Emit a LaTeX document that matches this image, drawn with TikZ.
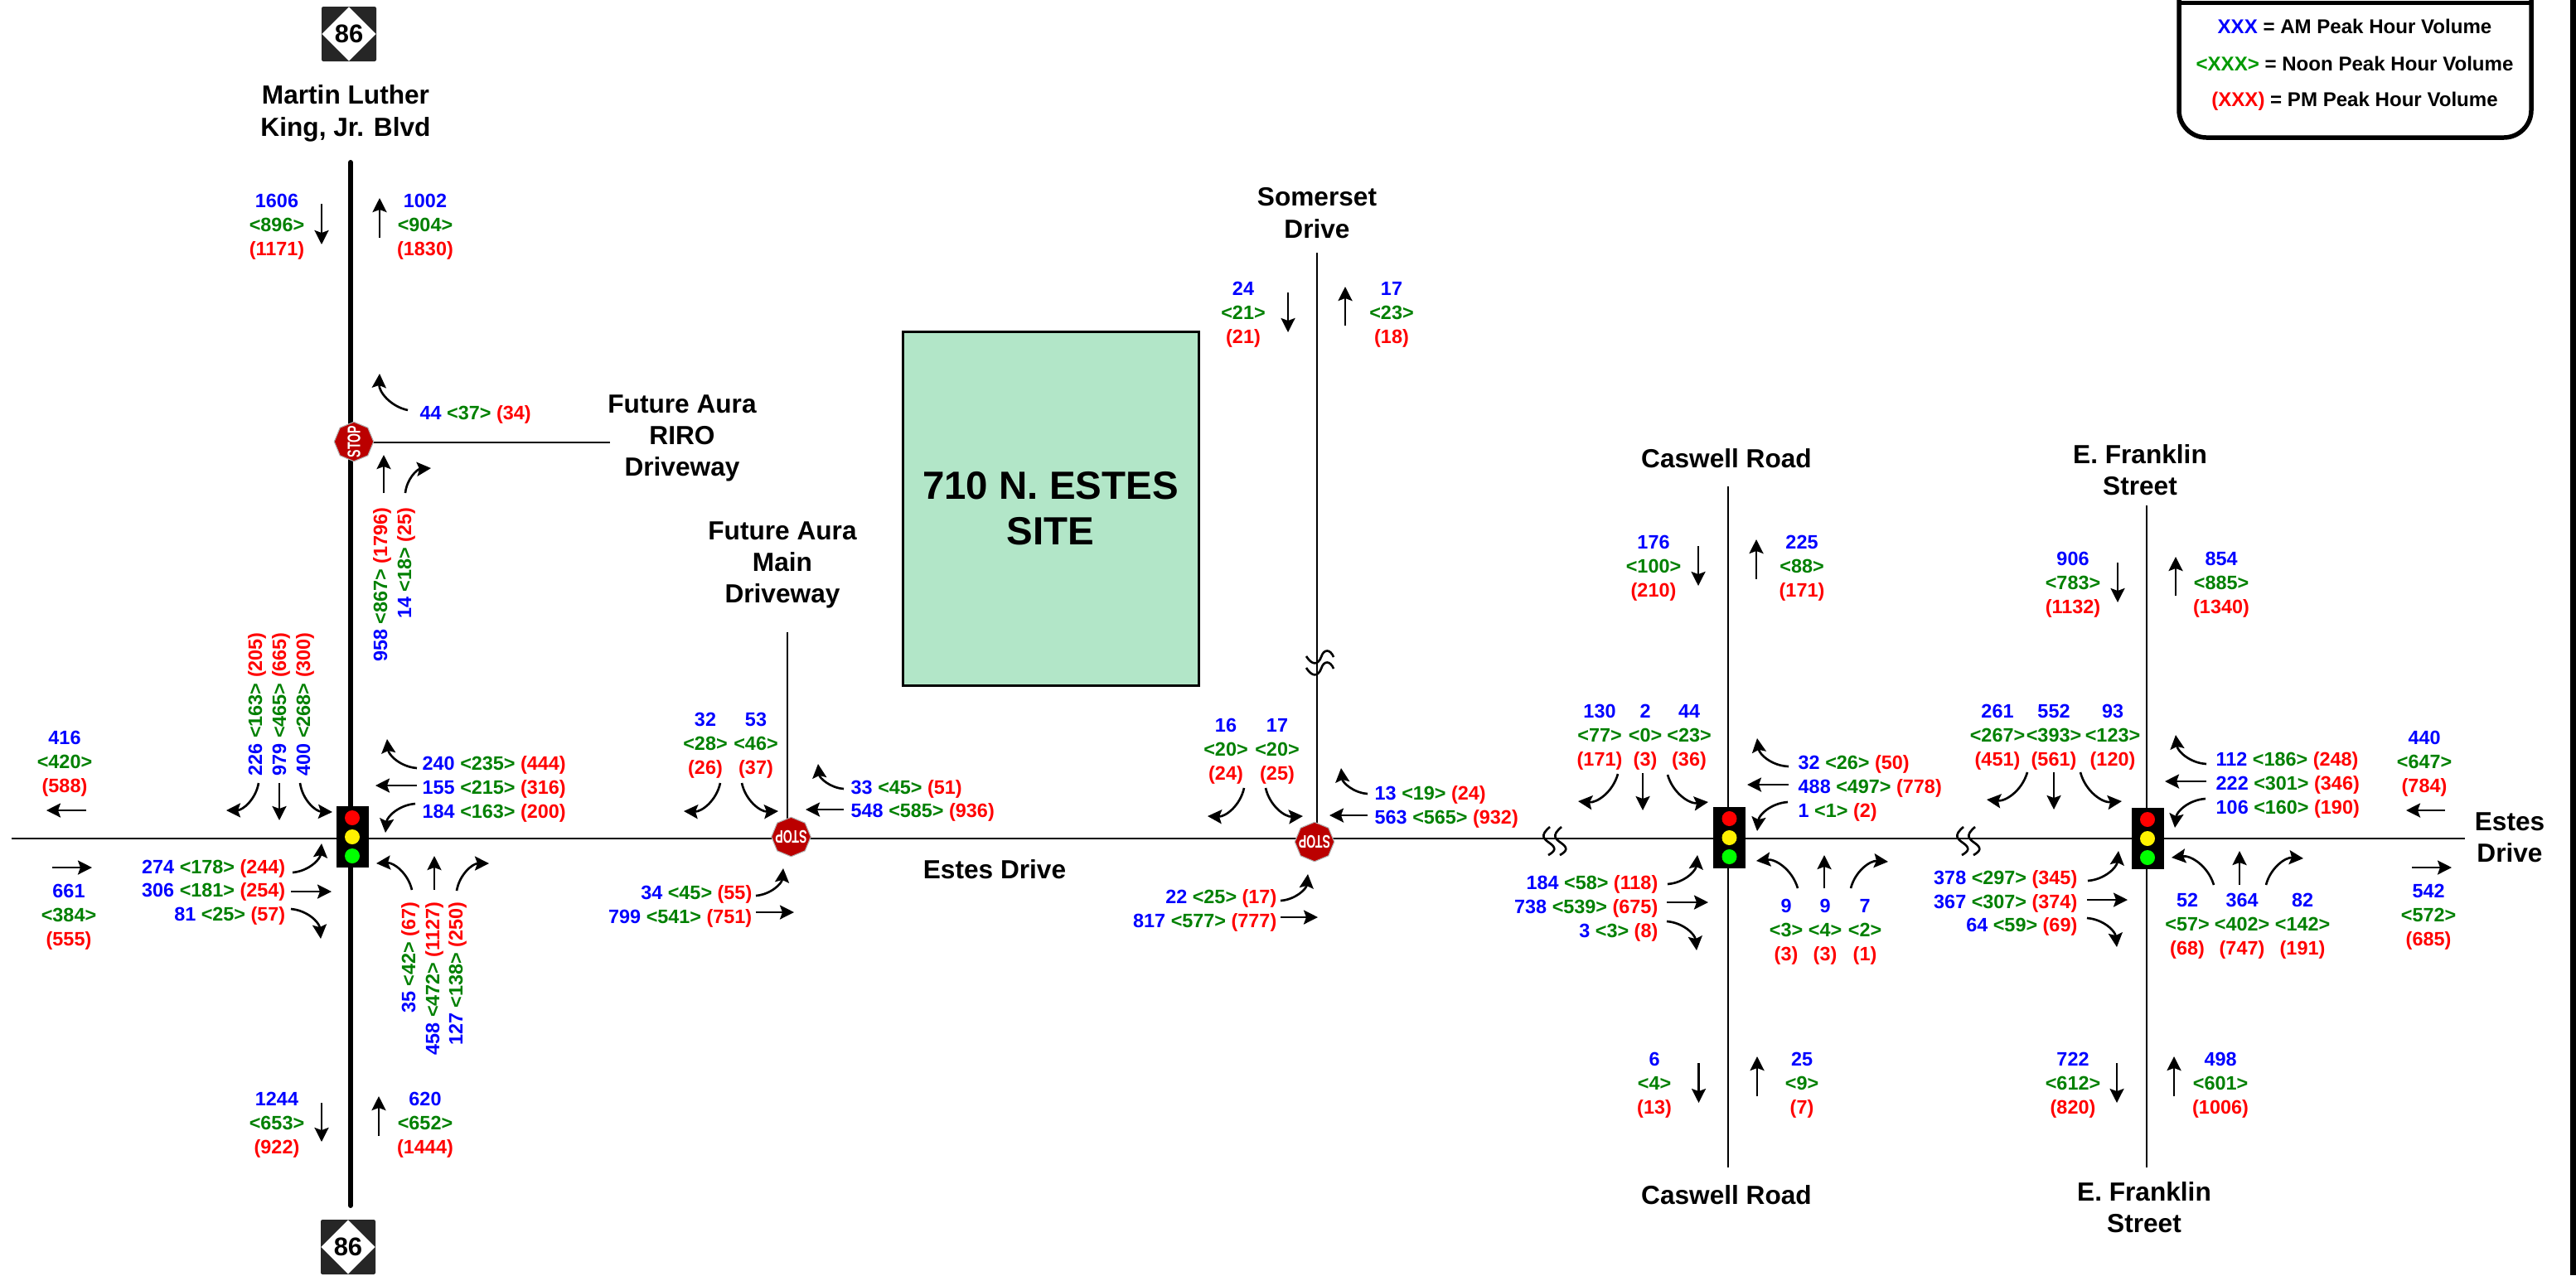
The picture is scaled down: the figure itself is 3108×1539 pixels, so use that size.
\documentclass[tikz,border=0pt]{standalone}
\usepackage{fontspec}
\setmainfont{Liberation Sans}
\usetikzlibrary{arrows.meta,shapes.geometric}
\definecolor{amblue}{HTML}{0000FF}
\definecolor{noongreen}{HTML}{008000}
\definecolor{keygreen}{HTML}{009900}
\definecolor{pmred}{HTML}{FF0000}
\definecolor{stopred}{HTML}{BB0000}
\definecolor{sitegreen}{HTML}{B2E6C8}
\definecolor{shielddark}{HTML}{262626}
\newcommand{\volrow}[3]{\textcolor{amblue}{#1} \textcolor{noongreen}{<#2>} \textcolor{pmred}{(#3)}}
\newcommand{\volstack}[3]{\textcolor{amblue}{#1}\\\textcolor{noongreen}{<#2>}\\\textcolor{pmred}{(#3)}}
\newcommand{\stoptext}{\smash{\makebox[0pt]{\raisebox{-.5\height}{\scalebox{.65}[1]{STOP}}}}}
\tikzset{
  volbase/.style={font=\fontsize{6.66}{8.25}\selectfont\bfseries,inner sep=0pt,align=center},
  vol/.style={volbase,yshift=-0.2mm},
  volup/.style={volbase,rotate=90},
  rdname/.style={font=\fontsize{9}{10.9}\selectfont\bfseries,inner sep=0pt,align=center},
  keyrow/.style={font=\fontsize{6.85}{8.25}\selectfont\bfseries,inner sep=0pt},
  mainrd/.style={line width=1.7pt,line cap=round},
  minorrd/.style={line width=0.75pt},
  mv/.style={-{Stealth[length=1.7mm,width=1.7mm,inset=0.3mm]},line width=0.75pt},
  turnl/.style={bend right=40},
  turnr/.style={bend left=40},
  sigbox/.style={fill=black,minimum width=0.39cm,minimum height=0.745cm,inner sep=0pt},
  lamp/.style={circle,minimum size=0.18cm,inner sep=0pt},
  stopsign/.style={regular polygon,regular polygon sides=8,shape border rotate=22.5,fill=stopred,draw=gray!60,line width=0.3pt,minimum size=0.475cm,inner sep=0pt,text=white,font=\fontsize{6.2}{7}\selectfont\bfseries},
  shieldbox/.style={fill=shielddark,rounded corners=0.6pt,minimum size=0.66cm,inner sep=0pt},
  shielddia/.style={diamond,fill=white,minimum width=0.66cm,minimum height=0.66cm,inner sep=0pt,font=\fontsize{8.8}{10}\selectfont\bfseries},
  brkv/.pic={\draw[minorrd] (-13,-8) .. controls (-6,3) and (1,3) .. (5,-7) .. controls (8,-17) and (16,-17) .. (20,-7);},
  brkh/.pic={\draw[minorrd] (2,-14) .. controls (-10,-4) and (-6,0) .. (1,5) .. controls (10,11) and (9,15) .. (0,20);}
}
\begin{document}
\begin{tikzpicture}[x=0.1mm,y=-0.1mm]
\useasboundingbox (0,0) rectangle (3108,1539);
\fill (3101,0) rectangle (3108,1539);
% roads
\draw[minorrd] (14,1012) -- (2974,1012);
\draw[mainrd] (423,196) -- (423,1455);
\draw[minorrd] (427,534) -- (736,534);
\draw[minorrd] (950,763) -- (950,1000);
\draw[minorrd] (1589,305) -- (1589,1000);
\draw[minorrd] (2085,587) -- (2085,1409);
\draw[minorrd] (2590,610) -- (2590,1409);
\foreach \dy in {0,14} \pic at (1589,{800+\dy}) {brkv};
\foreach \bx in {1868,1882,2367,2381} \pic at (\bx,1012) {brkh};
% site
\node[draw=black,line width=0.85pt,fill=sitegreen,minimum width=3.57cm,minimum height=4.27cm,inner sep=0pt,align=center,font=\fontsize{13.5}{15.6}\selectfont\bfseries] (site) at (1267.5,613.5) {710 N. ESTES\\SITE};
% shields
\node[shieldbox] (shieldN) at (421,41) {};
\node[shielddia] (diaN) at (shieldN) {86};
\node[shieldbox] (shieldS) at (420,1505) {};
\node[shielddia] (diaS) at (shieldS) {86};
% road names
\node[rdname] (mlkname) at (417,137) {Martin Luther\\King, Jr. Blvd};
\node[rdname] (rironame) at (823,529) {Future Aura\\RIRO\\Driveway};
\node[rdname] (mainname) at (944,682) {Future Aura\\Main\\Driveway};
\node[rdname] (somname) at (1589,257) {Somerset\\Drive};
\node[rdname] (estesname) at (1200,1049) {Estes Drive};
\node[rdname] (casNname) at (2083,553) {Caswell Road};
\node[rdname] (casSname) at (2083,1442) {Caswell Road};
\node[rdname] (frNname) at (2582,567) {E. Franklin\\Street};
\node[rdname] (frSname) at (2587,1457) {E. Franklin\\Street};
\node[rdname] (estesE) at (3028,1011) {Estes\\Drive};
% signals and stop signs
\foreach \sname/\sx/\sy in {sigmlk/425/1010,sigcas/2086.5/1011,sigfr/2591/1012}{
  \node[sigbox] (\sname) at (\sx,\sy) {};
  \node[lamp,fill=red] (\sname r) at (\sx,\sy-23) {};
  \node[lamp,fill=yellow] (\sname y) at (\sx,\sy) {};
  \node[lamp,fill=green] (\sname g) at (\sx,\sy+23) {};
}
\node[stopsign,rotate=90] (stopriro) at (427,533) {\stoptext};
\node[stopsign,rotate=180] (stopmain) at (954.5,1010) {\stoptext};
\node[stopsign,rotate=180] (stopsom) at (1586,1016) {\stoptext};
% key
\draw[line width=1.56pt,rounded corners=0.33cm] (2629,-10) -- (2629,166) -- (3054,166) -- (3054,-10);
\draw[line width=1.56pt] (2629,3.5) -- (3054,3.5);
\node[keyrow] (keyam) at (2841,32) {\textcolor{amblue}{XXX} = AM Peak Hour Volume};
\node[keyrow] (keynoon) at (2841,77) {\textcolor{keygreen}{<XXX>} = Noon Peak Hour Volume};
\node[keyrow] (keypm) at (2841,122) {\textcolor{pmred}{(XXX)} = PM Peak Hour Volume};
% Martin Luther King Jr Blvd, north end and RIRO
\node[vol] (mlkNs) at (334,272) {\volstack{1606}{896}{1171}};
\node[vol] (mlkNn) at (513,272) {\volstack{1002}{904}{1830}};
\draw[mv] (388,246) -- (388,295);
\draw[mv] (458,287) -- (458,239);
\node[vol,anchor=west] (riroW) at (506,498) {\volrow{44}{37}{34}};
\draw[mv] (492,495) to[turnr] (458,451);
\node[volup,anchor=east] (riroT) at (461,612) {\volrow{958}{867}{1796}};
\node[volup,anchor=east] (riroR) at (490,612) {\volrow{14}{18}{25}};
\draw[mv] (463,595) -- (463,549);
\draw[mv] (489,595) to[turnr] (520,565);
% Martin Luther King Jr Blvd at Estes
\node[volup,anchor=west] (mlkSBl) at (310,937) {\volrow{226}{163}{205}};
\node[volup,anchor=west] (mlkSBt) at (339,937) {\volrow{979}{465}{665}};
\node[volup,anchor=west] (mlkSBr) at (368,937) {\volrow{400}{268}{300}};
\draw[mv] (312,945) to[turnr] (273,978);
\draw[mv] (337,945) -- (337,990);
\draw[mv] (362,945) to[turnl] (401,980);
\node[vol,anchor=west] (mlkWBr) at (509,921) {\volrow{240}{235}{444}};
\node[vol,anchor=west] (mlkWBt) at (509,950) {\volrow{155}{215}{316}};
\node[vol,anchor=west] (mlkWBl) at (509,979) {\volrow{184}{163}{200}};
\draw[mv] (503,927) to[turnr] (467,892);
\draw[mv] (503,948) -- (453,948);
\draw[mv] (501,970) to[turnl] (465,1005);
\node[vol,anchor=east] (mlkEBl) at (345,1046) {\volrow{274}{178}{244}};
\node[vol,anchor=east] (mlkEBt) at (345,1074) {\volrow{306}{181}{254}};
\node[vol,anchor=east] (mlkEBr) at (345,1103) {\volrow{81}{25}{57}};
\draw[mv] (353,1053) to[turnl] (388,1018);
\draw[mv] (351,1076) -- (400,1076);
\draw[mv] (351,1097) to[turnr] (387,1133);
\node[volup,anchor=east] (mlkNBl) at (495,1088) {\volrow{35}{42}{67}};
\node[volup,anchor=east] (mlkNBt) at (524,1088) {\volrow{458}{472}{1127}};
\node[volup,anchor=east] (mlkNBr) at (552,1088) {\volrow{127}{138}{250}};
\draw[mv] (497,1074) to[turnl] (454,1042);
\draw[mv] (524,1074) -- (524,1033);
\draw[mv] (551,1075) to[turnr] (590,1042);
\node[vol] (estWout) at (78,920) {\volstack{416}{420}{588}};
\draw[mv] (104,978) -- (56,978);
\node[vol] (estWin) at (83,1105) {\volstack{661}{384}{555}};
\draw[mv] (63,1047) -- (111,1047);
\node[vol] (mlkSs) at (334,1356) {\volstack{1244}{653}{922}};
\node[vol] (mlkSn) at (513,1356) {\volstack{620}{652}{1444}};
\draw[mv] (388,1331) -- (388,1378);
\draw[mv] (457,1371) -- (457,1323);
% Future Aura main driveway
\node[vol] (mainSl) at (851,898) {\volstack{32}{28}{26}};
\node[vol] (mainSr) at (912,898) {\volstack{53}{46}{37}};
\draw[mv] (869,945) to[turnr] (825,979);
\draw[mv] (895,945) to[turnl] (939,979);
\node[vol,anchor=west] (mainWr) at (1026,950) {\volrow{33}{45}{51}};
\node[vol,anchor=west] (mainWt) at (1026,978) {\volrow{548}{585}{936}};
\draw[mv] (1018,952) to[turnr] (987,922);
\draw[mv] (1018,977) -- (972,977);
\node[vol,anchor=east] (mainEl) at (908,1077) {\volrow{34}{45}{55}};
\node[vol,anchor=east] (mainEt) at (908,1106) {\volrow{799}{541}{751}};
\draw[mv] (912,1081) to[turnl] (945,1048);
\draw[mv] (912,1101) -- (958,1101);
% Somerset Drive
\node[vol] (somNs) at (1500,378) {\volstack{24}{21}{21}};
\node[vol] (somNn) at (1679,378) {\volstack{17}{23}{18}};
\draw[mv] (1554,353) -- (1554,401);
\draw[mv] (1623,393) -- (1623,346);
\node[vol] (somSl) at (1479,905) {\volstack{16}{20}{24}};
\node[vol] (somSr) at (1541,905) {\volstack{17}{20}{25}};
\draw[mv] (1501,951) to[turnr] (1457,985);
\draw[mv] (1527,951) to[turnl] (1572,985);
\node[vol,anchor=west] (somWr) at (1658,957) {\volrow{13}{19}{24}};
\node[vol,anchor=west] (somWt) at (1658,986) {\volrow{563}{565}{932}};
\draw[mv] (1650,958) to[turnr] (1618,927);
\draw[mv] (1650,984) -- (1604,984);
\node[vol,anchor=east] (somEl) at (1541,1082) {\volrow{22}{25}{17}};
\node[vol,anchor=east] (somEt) at (1541,1111) {\volrow{817}{577}{777}};
\draw[mv] (1545,1087) to[turnl] (1578,1055);
\draw[mv] (1545,1107) -- (1590,1107);
% Caswell Road
\node[vol] (casNs) at (1995,684) {\volstack{176}{100}{210}};
\node[vol] (casNn) at (2174,684) {\volstack{225}{88}{171}};
\draw[mv] (2049,659) -- (2049,707);
\draw[mv] (2119,699) -- (2119,651);
\node[vol] (casSBl) at (1930,888) {\volstack{130}{77}{171}};
\node[vol] (casSBt) at (1985,888) {\volstack{2}{0}{3}};
\node[vol] (casSBr) at (2038,888) {\volstack{44}{23}{36}};
\draw[mv] (1952,934) to[turnr] (1904,967);
\draw[mv] (1982,933) -- (1982,978);
\draw[mv] (2012,935) to[turnl] (2061,968);
\node[vol,anchor=west] (casWBr) at (2169,920) {\volrow{32}{26}{50}};
\node[vol,anchor=west] (casWBt) at (2169,949) {\volrow{488}{497}{778}};
\node[vol,anchor=west] (casWBl) at (2169,978) {\volrow{1}{1}{2}};
\draw[mv] (2158,925) to[turnr] (2120,891);
\draw[mv] (2158,947) -- (2108,947);
\draw[mv] (2157,968) to[turnl] (2120,1003);
\node[vol,anchor=east] (casEBl) at (2001,1065) {\volrow{184}{58}{118}};
\node[vol,anchor=east] (casEBt) at (2001,1094) {\volrow{738}{539}{675}};
\node[vol,anchor=east] (casEBr) at (2001,1123) {\volrow{3}{3}{8}};
\draw[mv] (2012,1067) to[turnl] (2048,1032);
\draw[mv] (2011,1089) -- (2061,1089);
\draw[mv] (2011,1112) to[turnr] (2047,1147);
\node[vol] (casNBl) at (2155,1123) {\volstack{9}{3}{3}};
\node[vol] (casNBt) at (2202,1123) {\volstack{9}{4}{3}};
\node[vol] (casNBr) at (2250,1123) {\volstack{7}{2}{1}};
\draw[mv] (2169,1072) to[turnl] (2119,1039);
\draw[mv] (2201,1072) -- (2201,1032);
\draw[mv] (2233,1072) to[turnr] (2278,1040);
\node[vol] (casSs) at (1996,1308) {\volstack{6}{4}{13}};
\node[vol] (casSn) at (2174,1308) {\volstack{25}{9}{7}};
\draw[mv] (2049.5,1283) -- (2049.5,1331);
\draw[mv] (2120,1323) -- (2120,1275);
% E. Franklin Street
\node[vol] (frNs) at (2501,704) {\volstack{906}{783}{1132}};
\node[vol] (frNn) at (2680,704) {\volstack{854}{885}{1340}};
\draw[mv] (2555,679) -- (2555,727);
\draw[mv] (2625,719) -- (2625,672);
\node[vol] (frSBl) at (2410,888) {\volstack{261}{267}{451}};
\node[vol] (frSBt) at (2478,888) {\volstack{552}{393}{561}};
\node[vol] (frSBr) at (2549,888) {\volstack{93}{123}{120}};
\draw[mv] (2446,932) to[turnr] (2397,965);
\draw[mv] (2478,932) -- (2478,977);
\draw[mv] (2510,932) to[turnl] (2560,967);
\node[vol,anchor=west] (frWBr) at (2673,916) {\volrow{112}{186}{248}};
\node[vol,anchor=west] (frWBt) at (2673,945) {\volrow{222}{301}{346}};
\node[vol,anchor=west] (frWBl) at (2673,974) {\volrow{106}{160}{190}};
\draw[mv] (2662,922) to[turnr] (2625,887);
\draw[mv] (2662,943) -- (2612,943);
\draw[mv] (2661,964) to[turnl] (2624,999);
\node[vol,anchor=east] (frEBl) at (2507,1059) {\volrow{378}{297}{345}};
\node[vol,anchor=east] (frEBt) at (2507,1088) {\volrow{367}{307}{374}};
\node[vol,anchor=east] (frEBr) at (2507,1116) {\volrow{64}{59}{69}};
\draw[mv] (2519,1063) to[turnl] (2556,1027);
\draw[mv] (2518,1086) -- (2567,1086);
\draw[mv] (2518,1108) to[turnr] (2554,1143);
\node[vol] (frNBl) at (2639,1116) {\volstack{52}{57}{68}};
\node[vol] (frNBt) at (2705,1116) {\volstack{364}{402}{747}};
\node[vol] (frNBr) at (2778,1116) {\volstack{82}{142}{191}};
\draw[mv] (2671,1068) to[turnl] (2620,1035);
\draw[mv] (2702,1068) -- (2702,1027);
\draw[mv] (2734,1068) to[turnr] (2779,1036);
\node[vol] (estEin) at (2925,920) {\volstack{440}{647}{784}};
\draw[mv] (2950,978) -- (2903,978);
\node[vol] (estEout) at (2930,1105) {\volstack{542}{572}{685}};
\draw[mv] (2910,1047) -- (2958,1047);
\node[vol] (frSs) at (2501,1308) {\volstack{722}{612}{820}};
\node[vol] (frSn) at (2679,1308) {\volstack{498}{601}{1006}};
\draw[mv] (2554,1283) -- (2554,1331);
\draw[mv] (2623,1323) -- (2623,1275);
\end{tikzpicture}
\end{document}
